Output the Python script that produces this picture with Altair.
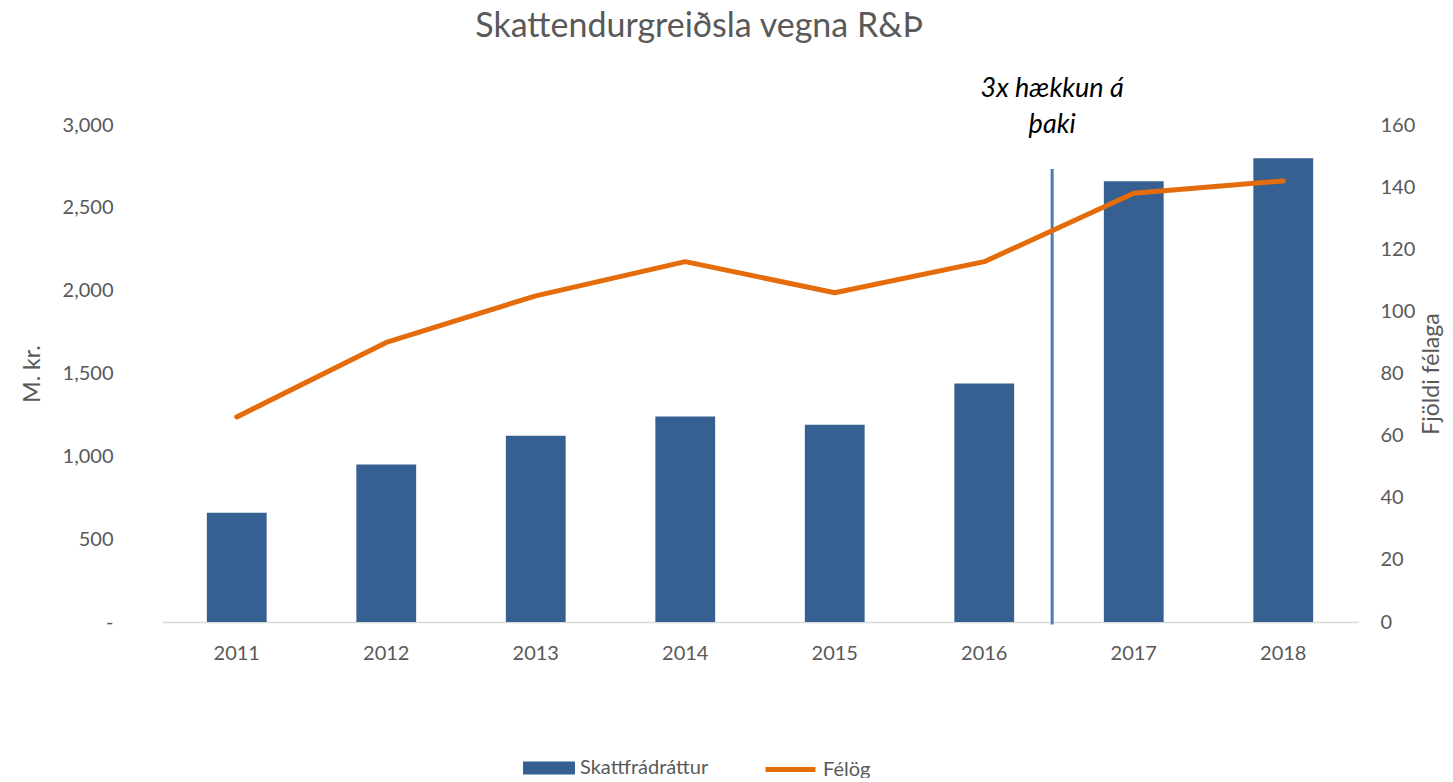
import altair as alt
import pandas as pd

# ---- data ----
years = ["2011", "2012", "2013", "2014", "2015", "2016", "2017", "2018"]
skattfradrattur = [660, 950, 1125, 1240, 1190, 1440, 2660, 2800]   # M. kr. (left axis)
felog = [66, 90, 105, 116, 106, 116, 138, 142]                     # Fjöldi félaga (right axis)
bar_series = "Skattfrádráttur"
line_series = "Félög"
left_ticks = [0, 500, 1000, 1500, 2000, 2500, 3000]
right_ticks = [0, 20, 40, 60, 80, 100, 120, 140, 160]
annotation_text = "3x hækkun á\nþaki"
annotation_year = ["2016"]
rule_top = [2735]
rule_bottom = [-15]
annotation_y = [3169]

FONT = "Lato"
GREY = "#595959"
BAR = "#376092"
ORANGE = "#E46C0A"
RULE = "#4A7EBB"

df = pd.DataFrame({
    "year": years,
    "m_kr": skattfradrattur,
    "felog": felog,
    "s1": [bar_series] * len(years),
    "s2": [line_series] * len(years),
})
ann = pd.DataFrame({
    "year": annotation_year,
    "top": rule_top,
    "bottom": rule_bottom,
    "ty": annotation_y,
    "label": [annotation_text],
})

x_enc = alt.X(
    "year:N",
    scale=alt.Scale(paddingInner=0.6, paddingOuter=0.3),
    axis=alt.Axis(title=None, labelAngle=0, ticks=False, domainColor="#D9D9D9",
                  domainWidth=1.5, labelFontSize=20, labelColor=GREY,
                  labelPadding=21, labelFont=FONT),
)
left_scale = alt.Scale(domain=[0, 3000])
left_axis = alt.Axis(title="M. kr.", values=left_ticks,
                     labelExpr="datum.value == 0 ? '-' : format(datum.value, ',')",
                     grid=False, ticks=False, domain=False, labelPadding=49,
                     labelFontSize=20, labelColor=GREY, labelFont=FONT,
                     titleFont=FONT, titleFontSize=23, titleFontWeight="normal",
                     titleColor=GREY, titlePadding=18)

bars = alt.Chart(df).mark_bar().encode(
    x=x_enc,
    y=alt.Y("m_kr:Q", scale=left_scale, axis=left_axis),
    color=alt.Color("s1:N", scale=alt.Scale(domain=[bar_series], range=[BAR]),
                    legend=alt.Legend(title=None, orient="none", legendX=361, legendY=617,
                                      symbolType="M-1,-0.25H1V0.25H-1Z", symbolSize=2704,
                                      symbolStrokeWidth=0, labelFont=FONT, labelFontSize=20,
                                      labelColor=GREY, labelOffset=5)),
)

rule = alt.Chart(ann).mark_rule(color=RULE, strokeWidth=3, xOffset=38).encode(
    x=alt.X("year:N", bandPosition=1),
    y=alt.Y("top:Q", scale=left_scale, axis=left_axis),
    y2="bottom:Q",
)

note = alt.Chart(ann).mark_text(font=FONT, fontSize=27, fontStyle="italic", color="#000000",
                                lineBreak="\n", lineHeight=36, baseline="alphabetic",
                                align="center", xOffset=38).encode(
    x=alt.X("year:N", bandPosition=1),
    y=alt.Y("ty:Q", scale=left_scale, axis=left_axis),
    text="label:N",
)

left = alt.layer(bars, rule, note)

line = alt.Chart(df).mark_line(strokeWidth=5, strokeCap="round", strokeJoin="round").encode(
    x=alt.X("year:N"),
    y=alt.Y("felog:Q", scale=alt.Scale(domain=[0, 160]),
            axis=alt.Axis(orient="right", title="Fjöldi félaga", values=right_ticks,
                          grid=False, ticks=False, domain=False, labelPadding=22,
                          labelFontSize=20, labelColor=GREY, labelFont=FONT,
                          titleFont=FONT, titleFontSize=23, titleFontWeight="normal",
                          titleColor=GREY, titlePadding=6, titleAngle=270,
                          titleBaseline="top")),
    stroke=alt.Stroke("s2:N", scale=alt.Scale(domain=[line_series], range=[ORANGE]),
                      legend=alt.Legend(title=None, orient="none", legendX=601, legendY=617,
                                        symbolType="stroke", symbolSize=2500,
                                        symbolStrokeWidth=5, labelFont=FONT, labelFontSize=20,
                                        labelColor=GREY, labelOffset=5)),
)

chart = alt.layer(left, line).resolve_scale(
    y="independent", color="independent", stroke="independent"
).properties(
    width=1196,
    height=497,
    autosize=alt.AutoSizeParams(type="none"),
    padding={"left": 154, "top": 117, "right": 87, "bottom": 156},
    title=alt.TitleParams("Skattendurgreiðsla vegna R&Þ", font=FONT, fontSize=34,
                          fontWeight="normal", color=GREY, anchor="middle", dx=-61,
                          offset=31),
).configure_view(stroke=None)

chart.save("out.html", embed_options={"renderer": "svg", "actions": False})
